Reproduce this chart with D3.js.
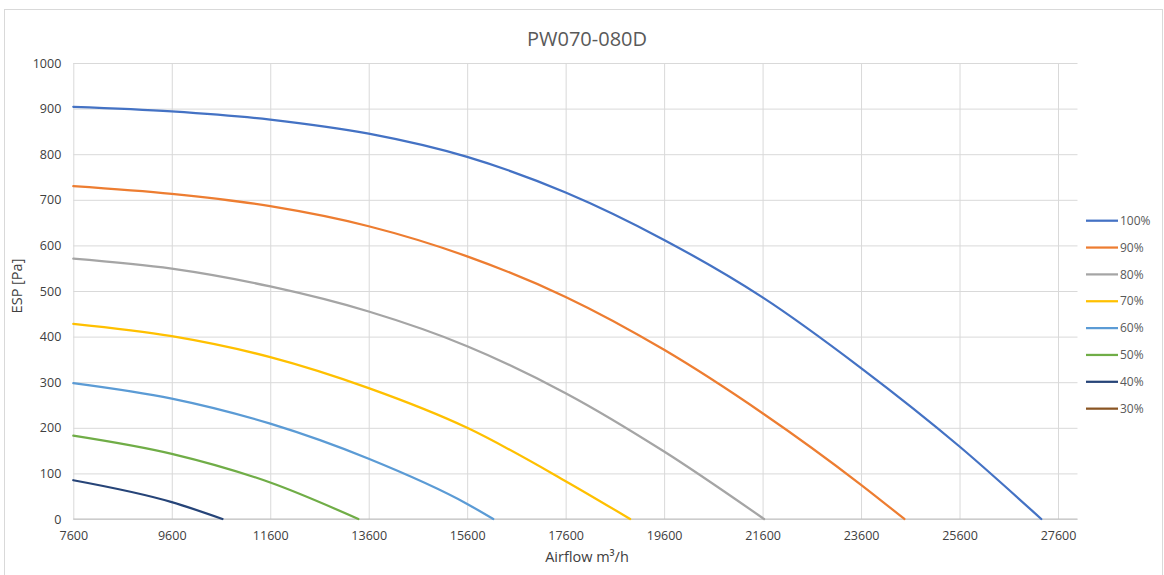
<!DOCTYPE html>
<html><head><meta charset="utf-8">
<script src="https://cdn.jsdelivr.net/npm/d3@7"></script>
<style>body{margin:0;background:#fff}svg{display:block}text{font-family:"Open Sans","Liberation Sans",sans-serif}</style>
</head><body><svg id="c" width="1164" height="575"></svg>
<script>
const title = "PW070-080D";
const seriesNames = ["100%","90%","80%","70%","60%","50%","40%","30%"];
const seriesColors = ["#4472C4","#ED7D31","#A5A5A5","#FFC000","#5B9BD5","#70AD47","#264478","#8a5523"];
const xTicks = [7600,9600,11600,13600,15600,17600,19600,21600,23600,25600,27600];
const yTicks = [0,100,200,300,400,500,600,700,800,900,1000];
// airflow / ESP pairs per series
const s100x = [7600,9600,11600,13600,15600,17600,19600,21600,23600,25600,27260];
const s100y = [904,894,876,845,794,716,612,486,331,159,0];
const s90x = [7600,9600,11600,13600,15600,17600,19600,21600,23600,24480];
const s90y = [730,713,686,642,576,487,371,232,75,0];
const s80x = [7600,9600,11600,13600,15600,17600,19600,21630];
const s80y = [571,549,510,455,379,276,148,0];
const s70x = [7600,9600,11600,13600,15600,17600,18910];
const s70y = [428,401,355,287,200,83,0];
const s60x = [7600,9600,11600,13600,15600,16130];
const s60y = [298,264,209,132,33,0];
const s50x = [7600,9600,11600,13390];
const s50y = [183,143,80,0];
const s40x = [7600,9600,10630];
const s40y = [85,37,0];
const s30x = [];
const s30y = [];
const allX = [s100x,s90x,s80x,s70x,s60x,s50x,s40x,s30x];
const allY = [s100y,s90y,s80y,s70y,s60y,s50y,s40y,s30y];

const svg = d3.select("#c");
const L=73.3, R=1077.5, T=63, B=519;
const x = d3.scaleLinear().domain([7600,27600]).range([L,1058]);
const xEnd = x.invert(R);
x.domain([7600,xEnd]).range([L,R]);
const y = d3.scaleLinear().domain([0,1000]).range([B,T]);

svg.append("rect").attr("x",4.5).attr("y",9.5).attr("width",1158).attr("height",580)
  .attr("fill","#fff").attr("stroke","#d9d9d9");

svg.append("text").attr("x",587).attr("y",46).attr("text-anchor","middle")
  .attr("font-size",20).attr("fill","#595959").text(title);

const gridY = d3.axisLeft(y).tickValues(yTicks).tickSize(-(R-L)).tickFormat(d3.format("d"));
const gy = svg.append("g").attr("transform",`translate(${L},0)`).call(gridY);
gy.select(".domain").remove();
gy.selectAll("line").attr("stroke","#d9d9d9");
gy.selectAll("text").attr("x",-12).attr("font-size",12.5).attr("fill","#404040");

const gridX = d3.axisBottom(x).tickValues(xTicks).tickSize(-(B-T)).tickFormat(d3.format("d"));
const gx = svg.append("g").attr("transform",`translate(0,${B})`).call(gridX);
gx.select(".domain").remove();
gx.selectAll("line").attr("stroke","#d9d9d9");
gx.selectAll("text").attr("y",12).attr("font-size",12.5).attr("fill","#404040");

svg.append("line").attr("x1",L).attr("x2",R).attr("y1",B).attr("y2",B).attr("stroke","#bfbfbf");

const line = d3.line().x(d=>x(d[0])).y(d=>y(d[1])).curve(d3.curveMonotoneX);
seriesNames.forEach((n,i)=>{
  const pts = allX[i].map((v,j)=>[v,allY[i][j]]);
  if(pts.length) svg.append("path").attr("d",line(pts)).attr("fill","none")
    .attr("stroke",seriesColors[i]).attr("stroke-width",2.25).attr("stroke-linecap","round");
});

const leg = svg.append("g");
seriesNames.forEach((n,i)=>{
  const yy = 220.7 + i*26.85;
  leg.append("line").attr("x1",1086).attr("x2",1118).attr("y1",yy).attr("y2",yy)
    .attr("stroke",seriesColors[i]).attr("stroke-width",2.25);
  leg.append("text").attr("x",1120).attr("y",yy+4.2).attr("font-size",12).attr("fill","#595959").text(n);
});

svg.append("text").attr("transform",`translate(22,286) rotate(-90)`).attr("text-anchor","middle")
  .attr("font-size",14.5).attr("fill","#404040").text("ESP [Pa]");
svg.append("text").attr("x",587).attr("y",562).attr("text-anchor","middle")
  .attr("font-size",14.5).attr("fill","#404040").text("Airflow m³/h");
</script></body></html>
